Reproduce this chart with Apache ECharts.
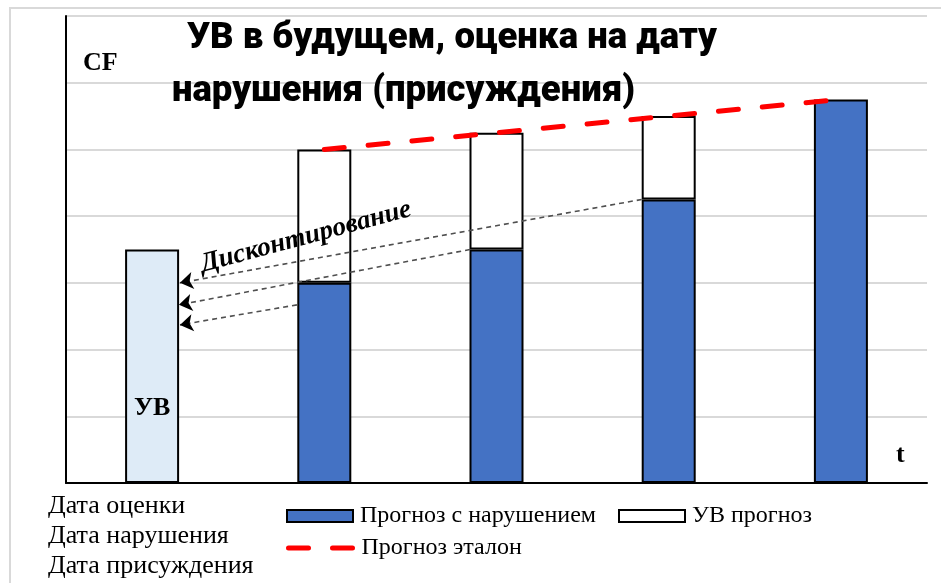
<!DOCTYPE html>
<html>
<head>
<meta charset="utf-8">
<script src="https://cdn.jsdelivr.net/npm/echarts@6/dist/echarts.min.js"></script>
<style>html,body{margin:0;padding:0;background:#fff;}#c{width:941px;height:583px;}</style>
</head>
<body>
<div id="c"></div>
<script>
// ---- data ----
var categories = ['t0', 't1', 't2', 't3', 't4'];
var uvNow = [3.5, '-', '-', '-', '-'];                 // УВ на дату оценки
var forecastViolation = ['-', 3.0, 3.5, 4.25, 5.75];  // Прогноз с нарушением
var uvForecast = ['-', 2.0, 1.75, 1.25, '-'];         // УВ прогноз (разница)
var forecastBenchmark = ['-', 5.0, 5.25, 5.5, 5.75];  // Прогноз эталон
// discounting arrows: [from [x, y], to [x, y]] in (category-position, value) units
var discountArrows = [
  [[3.343, 4.25], [0.662, 3.0]],
  [[2.346, 3.5], [0.656, 2.67]],
  [[1.341, 2.67], [0.662, 2.37]]
];
var yTicks = [0, 1, 2, 3, 4, 5, 6, 7];
var dateLabels = ['Дата оценки', 'Дата нарушения', 'Дата присуждения'];

var chart = echarts.init(document.getElementById('c'), null, {renderer: 'canvas'});
var serif = '"Liberation Serif", "Times New Roman", serif';
var titleStyle = {fontFamily: 'Roboto', fontWeight: 900, fontSize: 36.5, color: '#000'};
var legendText = {fontFamily: serif, fontSize: 24, color: '#000', padding: [0, 0, 0, 2]};
var option = {
  backgroundColor: '#fff',
  animation: false,
  title: [
    {text: 'УВ в будущем, оценка на дату', left: 187, top: 20, padding: 0, textStyle: titleStyle},
    {text: 'нарушения (присуждения)', left: 172, top: 73, padding: 0, textStyle: titleStyle}
  ],
  grid: {left: 66, right: 14, top: 16, bottom: 100, containLabel: false},
  xAxis: [
    {type: 'category', data: categories, boundaryGap: true,
     axisLine: {show: true, lineStyle: {color: '#000', width: 2}},
     axisTick: {show: false}, axisLabel: {show: false}, splitLine: {show: false}},
    {type: 'value', min: 0, max: 5, show: false}
  ],
  yAxis: {type: 'value', min: yTicks[0], max: yTicks[yTicks.length - 1], interval: 1,
    axisLine: {show: true, lineStyle: {color: '#000', width: 2}},
    axisTick: {show: false}, axisLabel: {show: false},
    splitLine: {show: true, lineStyle: {color: '#d9d9d9', width: 2}}},
  legend: [
    {data: ['Прогноз с нарушением'], left: 286, top: 504, padding: 0, itemWidth: 66, itemHeight: 12, icon: 'rect',
     itemStyle: {borderColor: '#000', borderWidth: 2}, textStyle: legendText},
    {data: ['УВ прогноз'], left: 618, top: 504, padding: 0, itemWidth: 66, itemHeight: 12, icon: 'rect',
     itemStyle: {borderColor: '#000', borderWidth: 2}, textStyle: legendText},
    {data: ['Прогноз эталон'], left: 286, top: 536, padding: 0, itemWidth: 66, itemHeight: 12,
     itemStyle: {color: 'rgba(0,0,0,0)', borderWidth: 0, opacity: 0},
     lineStyle: {color: '#ff0000', width: 5, type: [20, 24], cap: 'round'},
     textStyle: legendText}
  ],
  series: [
    {name: 'УВ', type: 'bar', stack: 's', data: uvNow, barWidth: 54,
     itemStyle: {color: '#DEEBF7', borderColor: '#000', borderWidth: 2},
     label: {show: true, position: 'insideBottom', distance: 62, formatter: 'УВ',
       fontFamily: serif, fontWeight: 'bold', fontSize: 26, color: '#000'}},
    {name: 'Прогноз с нарушением', type: 'bar', stack: 's', data: forecastViolation, barWidth: 54,
     itemStyle: {color: '#4472C4', borderColor: '#000', borderWidth: 2}},
    {name: 'УВ прогноз', type: 'bar', stack: 's', data: uvForecast, barWidth: 54,
     itemStyle: {color: '#fff', borderColor: '#000', borderWidth: 2}},
    {name: 'Прогноз эталон', type: 'line', data: forecastBenchmark, symbol: 'none', z: 5,
     lineStyle: {color: '#ff0000', width: 5, type: [20, 24], cap: 'round'},
     itemStyle: {color: '#ff0000'}},
    {name: 'Дисконтирование', type: 'lines', coordinateSystem: 'cartesian2d',
     xAxisIndex: 1, yAxisIndex: 0, z: 6, symbol: ['none', 'none'],
     lineStyle: {color: '#505050', width: 1.6, type: [5, 4], opacity: 1, curveness: 0},
     data: discountArrows.map(function (a) { return {coords: a}; })},
    {name: 'Дисконтирование-стрелки', type: 'lines', coordinateSystem: 'cartesian2d',
     xAxisIndex: 1, yAxisIndex: 0, z: 7, symbol: ['none', 'arrow'], symbolSize: 13,
     lineStyle: {color: '#000', width: 0, opacity: 1, curveness: 0},
     data: discountArrows.map(function (a) { return {coords: a}; })}
  ],
  graphic: [
    {type: 'rect', shape: {x: 10, y: 8, width: 940, height: 590}, silent: true, z: -1,
     style: {fill: null, stroke: '#d9d9d9', lineWidth: 2}},
    {type: 'text', left: 83, top: 50, style: {text: 'CF', font: 'bold 26px ' + serif, fill: '#000'}},
    {type: 'text', left: 896, top: 442, style: {text: 't', font: 'bold 26px ' + serif, fill: '#000'}},
    {type: 'text', x: 306, y: 237, rotation: 0.262, z: 10,
     style: {text: 'Дисконтирование', font: 'italic bold 27px ' + serif, fill: '#000',
       align: 'center', verticalAlign: 'middle'}},
    {type: 'text', left: 48, top: 493, style: {text: dateLabels[0], font: '26px ' + serif, fill: '#000'}},
    {type: 'text', left: 48, top: 523, style: {text: dateLabels[1], font: '26px ' + serif, fill: '#000'}},
    {type: 'text', left: 48, top: 553, style: {text: dateLabels[2], font: '26px ' + serif, fill: '#000'}}
  ]
};
chart.setOption(option);
</script>
</body>
</html>
